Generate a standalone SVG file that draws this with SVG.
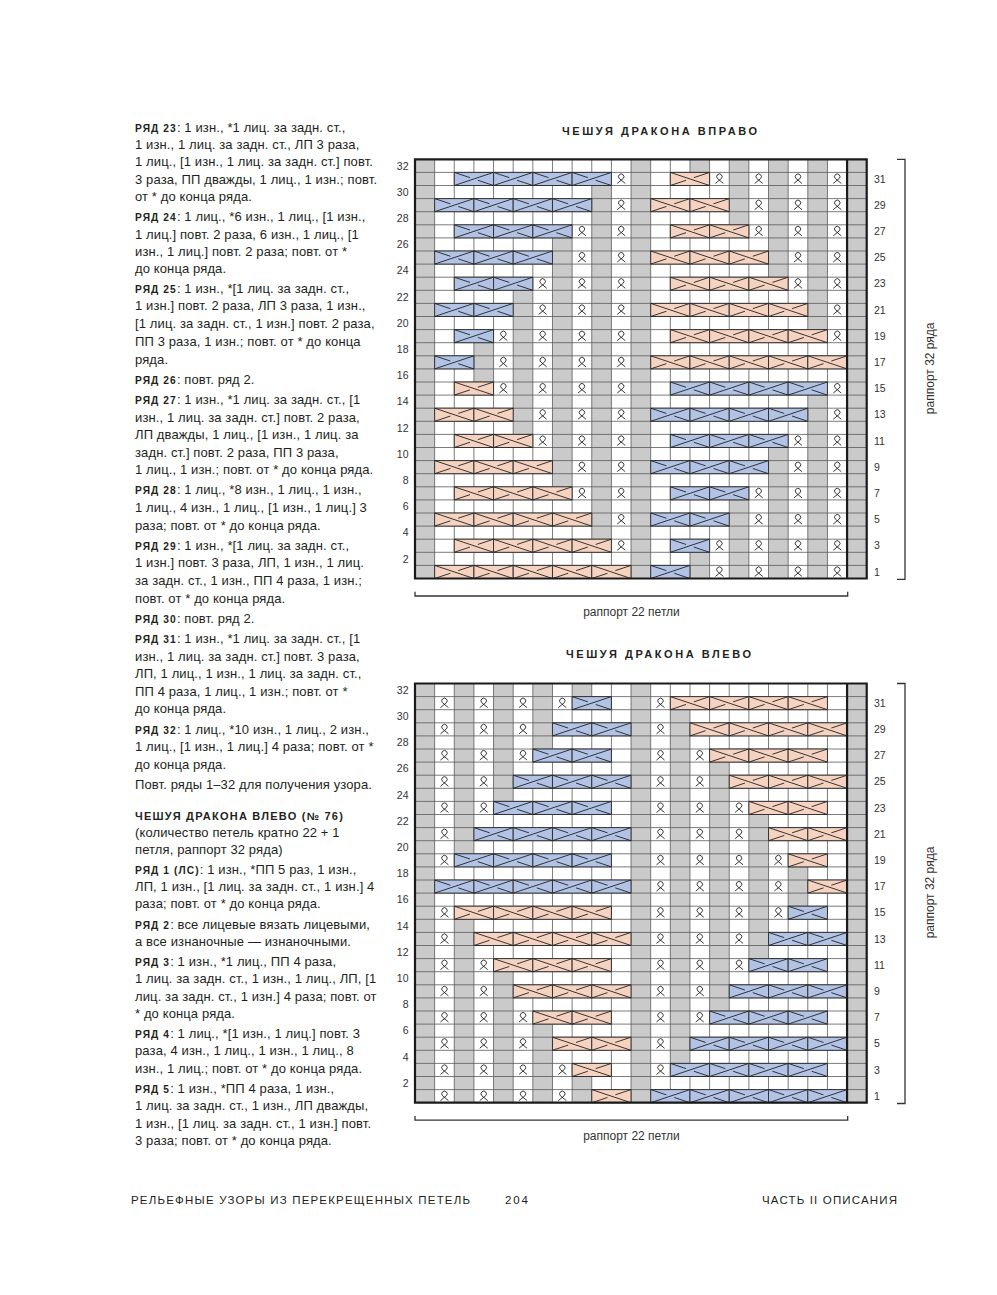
<svg xmlns="http://www.w3.org/2000/svg" xmlns:xlink="http://www.w3.org/1999/xlink" width="997" height="1295" viewBox="0 0 997 1295">
<style>
.body{font-family:'Liberation Sans',Arial,sans-serif;font-size:13px;letter-spacing:0.12px;fill:#231f20}
.rl{font-weight:bold;font-size:10.2px;letter-spacing:1.1px}
.hd{font-family:'Liberation Sans',Arial,sans-serif;font-weight:bold;font-size:11px;fill:#231f20}
.lbl{font-family:'Liberation Sans',Arial,sans-serif;font-size:10.5px;fill:#333}
.cap{font-family:'Liberation Sans',Arial,sans-serif;font-size:12px;fill:#333}
.ft{font-family:'Liberation Sans',Arial,sans-serif;font-size:11.5px;fill:#231f20}
.gr{fill:#cacaca}
.brk{fill:none;stroke:#333;stroke-width:1.3}
</style>
<defs>
<g id="O"><rect width="2" height="1" fill="#f6d2c0" stroke="#333" stroke-width="1" vector-effect="non-scaling-stroke"/><path d="M0 0L2 1M0 1L0.8 0.6M1.2 0.4L2 0" fill="none" stroke="#222" stroke-width="0.9" vector-effect="non-scaling-stroke"/></g>
<g id="B"><rect width="2" height="1" fill="#b2c3e6" stroke="#333" stroke-width="1" vector-effect="non-scaling-stroke"/><path d="M0 1L2 0M0 0L0.8 0.4M1.2 0.6L2 1" fill="none" stroke="#222" stroke-width="0.9" vector-effect="non-scaling-stroke"/></g>
<path id="t" d="M0.2963 0.8435L0.5967 0.4695A0.1375 0.2061 0 1 0 0.4033 0.4695L0.7037 0.8435" fill="none" stroke="#222" stroke-width="0.9" vector-effect="non-scaling-stroke"/>
<g id="grid">
<path d="M1 0V32M2 0V32M3 0V32M4 0V32M5 0V32M6 0V32M7 0V32M8 0V32M9 0V32M10 0V32M11 0V32M12 0V32M13 0V32M14 0V32M15 0V32M16 0V32M17 0V32M18 0V32M19 0V32M20 0V32M21 0V32M0 1H23M0 2H23M0 3H23M0 4H23M0 5H23M0 6H23M0 7H23M0 8H23M0 9H23M0 10H23M0 11H23M0 12H23M0 13H23M0 14H23M0 15H23M0 16H23M0 17H23M0 18H23M0 19H23M0 20H23M0 21H23M0 22H23M0 23H23M0 24H23M0 25H23M0 26H23M0 27H23M0 28H23M0 29H23M0 30H23M0 31H23" fill="none" stroke="#5a5a5a" stroke-width="0.8" vector-effect="non-scaling-stroke"/>
</g>
<g id="border">
<rect width="23" height="32" fill="none" stroke="#1a1a1a" stroke-width="2.2" vector-effect="non-scaling-stroke"/>
<path d="M22 0V32" stroke="#1a1a1a" stroke-width="2.2" vector-effect="non-scaling-stroke"/>
</g>
<g id="frame">
<g class="lbl" text-anchor="end">
<text x="408.5" y="10.25">32</text><text x="408.5" y="36.45">30</text><text x="408.5" y="62.65">28</text><text x="408.5" y="88.85">26</text>
<text x="408.5" y="115.05">24</text><text x="408.5" y="141.25">22</text><text x="408.5" y="167.45">20</text><text x="408.5" y="193.65">18</text>
<text x="408.5" y="219.85">16</text><text x="408.5" y="246.05">14</text><text x="408.5" y="272.25">12</text><text x="408.5" y="298.45">10</text>
<text x="408.5" y="324.65">8</text><text x="408.5" y="350.85">6</text><text x="408.5" y="377.05">4</text><text x="408.5" y="403.25">2</text>
</g>
<g class="lbl">
<text x="874" y="23.35">31</text><text x="874" y="49.55">29</text><text x="874" y="75.75">27</text><text x="874" y="101.95">25</text>
<text x="874" y="128.15">23</text><text x="874" y="154.35">21</text><text x="874" y="180.55">19</text><text x="874" y="206.75">17</text>
<text x="874" y="232.95">15</text><text x="874" y="259.15">13</text><text x="874" y="285.35">11</text><text x="874" y="311.55">9</text>
<text x="874" y="337.75">7</text><text x="874" y="363.95">5</text><text x="874" y="390.15">3</text><text x="874" y="416.35">1</text>
</g>
<path class="brk" d="M415 432.5V436.7H847.7V432.5"/>
<text class="cap" x="631.5" y="456.7" text-anchor="middle">раппорт 22 петли</text>
<path class="brk" d="M897 0H905V420H897"/>
<text class="cap" transform="translate(934,209) rotate(-90)" text-anchor="middle">раппорт 32 ряда</text>
</g>
</defs>

<g id="text-column" class="body">
<text x="135" y="132"><tspan class="rl">РЯД 23</tspan>: 1 изн., *1 лиц. за задн. ст.,</text>
<text x="135" y="149">1 изн., 1 лиц. за задн. ст., ЛП 3 раза,</text>
<text x="135" y="166">1 лиц., [1 изн., 1 лиц. за задн. ст.] повт.</text>
<text x="135" y="184">3 раза, ПП дважды, 1 лиц., 1 изн.; повт.</text>
<text x="135" y="201">от * до конца ряда.</text>
<text x="135" y="221"><tspan class="rl">РЯД 24</tspan>: 1 лиц., *6 изн., 1 лиц., [1 изн.,</text>
<text x="135" y="239">1 лиц.] повт. 2 раза, 6 изн., 1 лиц., [1</text>
<text x="135" y="256">изн., 1 лиц.] повт. 2 раза; повт. от *</text>
<text x="135" y="273">до конца ряда.</text>
<text x="135" y="293"><tspan class="rl">РЯД 25</tspan>: 1 изн., *[1 лиц. за задн. ст.,</text>
<text x="135" y="310">1 изн.] повт. 2 раза, ЛП 3 раза, 1 изн.,</text>
<text x="135" y="328">[1 лиц. за задн. ст., 1 изн.] повт. 2 раза,</text>
<text x="135" y="346">ПП 3 раза, 1 изн.; повт. от * до конца</text>
<text x="135" y="364">ряда.</text>
<text x="135" y="384"><tspan class="rl">РЯД 26</tspan>: повт. ряд 2.</text>
<text x="135" y="404"><tspan class="rl">РЯД 27</tspan>: 1 изн., *1 лиц. за задн. ст., [1</text>
<text x="135" y="422">изн., 1 лиц. за задн. ст.] повт. 2 раза,</text>
<text x="135" y="439">ЛП дважды, 1 лиц., [1 изн., 1 лиц. за</text>
<text x="135" y="457">задн. ст.] повт. 2 раза, ПП 3 раза,</text>
<text x="135" y="474">1 лиц., 1 изн.; повт. от * до конца ряда.</text>
<text x="135" y="494"><tspan class="rl">РЯД 28</tspan>: 1 лиц., *8 изн., 1 лиц., 1 изн.,</text>
<text x="135" y="512">1 лиц., 4 изн., 1 лиц., [1 изн., 1 лиц.] 3</text>
<text x="135" y="530">раза; повт. от * до конца ряда.</text>
<text x="135" y="550"><tspan class="rl">РЯД 29</tspan>: 1 изн., *[1 лиц. за задн. ст.,</text>
<text x="135" y="567">1 изн.] повт. 3 раза, ЛП, 1 изн., 1 лиц.</text>
<text x="135" y="585">за задн. ст., 1 изн., ПП 4 раза, 1 изн.;</text>
<text x="135" y="603">повт. от * до конца ряда.</text>
<text x="135" y="623"><tspan class="rl">РЯД 30</tspan>: повт. ряд 2.</text>
<text x="135" y="643"><tspan class="rl">РЯД 31</tspan>: 1 изн., *1 лиц. за задн. ст., [1</text>
<text x="135" y="661">изн., 1 лиц. за задн. ст.] повт. 3 раза,</text>
<text x="135" y="678">ЛП, 1 лиц., 1 изн., 1 лиц. за задн. ст.,</text>
<text x="135" y="696">ПП 4 раза, 1 лиц., 1 изн.; повт. от *</text>
<text x="135" y="713">до конца ряда.</text>
<text x="135" y="734"><tspan class="rl">РЯД 32</tspan>: 1 лиц., *10 изн., 1 лиц., 2 изн.,</text>
<text x="135" y="751">1 лиц., [1 изн., 1 лиц.] 4 раза; повт. от *</text>
<text x="135" y="769">до конца ряда.</text>
<text x="135" y="789">Повт. ряды 1–32 для получения узора.</text>
<text class="hd" x="135" y="820" textLength="208" lengthAdjust="spacing">ЧЕШУЯ ДРАКОНА ВЛЕВО (№ 76)</text>
<text x="135" y="837">(количество петель кратно 22 + 1</text>
<text x="135" y="854">петля, раппорт 32 ряда)</text>
<text x="135" y="874"><tspan class="rl">РЯД 1 (ЛС)</tspan>: 1 изн., *ПП 5 раз, 1 изн.,</text>
<text x="135" y="891">ЛП, 1 изн., [1 лиц. за задн. ст., 1 изн.] 4</text>
<text x="135" y="908">раза; повт. от * до конца ряда.</text>
<text x="135" y="929"><tspan class="rl">РЯД 2</tspan>: все лицевые вязать лицевыми,</text>
<text x="135" y="946">а все изнаночные — изнаночными.</text>
<text x="135" y="966"><tspan class="rl">РЯД 3</tspan>: 1 изн., *1 лиц., ПП 4 раза,</text>
<text x="135" y="983">1 лиц. за задн. ст., 1 изн., 1 лиц., ЛП, [1</text>
<text x="135" y="1001">лиц. за задн. ст., 1 изн.] 4 раза; повт. от</text>
<text x="135" y="1018">* до конца ряда.</text>
<text x="135" y="1038"><tspan class="rl">РЯД 4</tspan>: 1 лиц., *[1 изн., 1 лиц.] повт. 3</text>
<text x="135" y="1055">раза, 4 изн., 1 лиц., 1 изн., 1 лиц., 8</text>
<text x="135" y="1073">изн., 1 лиц.; повт. от * до конца ряда.</text>
<text x="135" y="1093"><tspan class="rl">РЯД 5</tspan>: 1 изн., *ПП 4 раза, 1 изн.,</text>
<text x="135" y="1110">1 лиц. за задн. ст., 1 изн., ЛП дважды,</text>
<text x="135" y="1128">1 изн., [1 лиц. за задн. ст., 1 изн.] повт.</text>
<text x="135" y="1145">3 раза; повт. от * до конца ряда.</text>
</g>

<g id="title1"><text class="hd" x="562" y="135" font-size="11.5" textLength="195" lengthAdjust="spacing">ЧЕШУЯ ДРАКОНА ВПРАВО</text></g>
<g id="title2"><text class="hd" x="566" y="658" font-size="11.5" textLength="185" lengthAdjust="spacing">ЧЕШУЯ ДРАКОНА ВЛЕВО</text></g>

<g id="chart1" transform="translate(415,159.3) scale(19.64,13.1)">
<rect width="23" height="32" fill="#fff"/>
<path class="gr" d="M0 0h1v32h-1zM11 0h1v32h-1zM22 0h1v32h-1zM9 2h1v27h-1zM7 6h1v19h-1zM5 10h1v11h-1zM3 14h1v3h-1zM14 0h1v1h-1zM14 30h1v2h-1zM16 0h1v5h-1zM16 26h1v6h-1zM18 0h1v9h-1zM18 22h1v10h-1zM20 0h1v13h-1zM20 18h1v14h-1z"/>
<use href="#grid"/>
<g id="cables1">
<use href="#B" x="2" y="1"/><use href="#B" x="4" y="1"/><use href="#B" x="6" y="1"/><use href="#B" x="8" y="1"/><use href="#O" x="13" y="1"/>
<use href="#B" x="1" y="3"/><use href="#B" x="3" y="3"/><use href="#B" x="5" y="3"/><use href="#B" x="7" y="3"/><use href="#O" x="12" y="3"/><use href="#O" x="14" y="3"/>
<use href="#B" x="2" y="5"/><use href="#B" x="4" y="5"/><use href="#B" x="6" y="5"/><use href="#O" x="13" y="5"/><use href="#O" x="15" y="5"/>
<use href="#B" x="1" y="7"/><use href="#B" x="3" y="7"/><use href="#B" x="5" y="7"/><use href="#O" x="12" y="7"/><use href="#O" x="14" y="7"/><use href="#O" x="16" y="7"/>
<use href="#B" x="2" y="9"/><use href="#B" x="4" y="9"/><use href="#O" x="13" y="9"/><use href="#O" x="15" y="9"/><use href="#O" x="17" y="9"/>
<use href="#B" x="1" y="11"/><use href="#B" x="3" y="11"/><use href="#O" x="12" y="11"/><use href="#O" x="14" y="11"/><use href="#O" x="16" y="11"/><use href="#O" x="18" y="11"/>
<use href="#B" x="2" y="13"/><use href="#O" x="13" y="13"/><use href="#O" x="15" y="13"/><use href="#O" x="17" y="13"/><use href="#O" x="19" y="13"/>
<use href="#B" x="1" y="15"/><use href="#O" x="12" y="15"/><use href="#O" x="14" y="15"/><use href="#O" x="16" y="15"/><use href="#O" x="18" y="15"/><use href="#O" x="20" y="15"/>
<use href="#O" x="2" y="17"/><use href="#B" x="13" y="17"/><use href="#B" x="15" y="17"/><use href="#B" x="17" y="17"/><use href="#B" x="19" y="17"/>
<use href="#O" x="1" y="19"/><use href="#O" x="3" y="19"/><use href="#B" x="12" y="19"/><use href="#B" x="14" y="19"/><use href="#B" x="16" y="19"/><use href="#B" x="18" y="19"/>
<use href="#O" x="2" y="21"/><use href="#O" x="4" y="21"/><use href="#B" x="13" y="21"/><use href="#B" x="15" y="21"/><use href="#B" x="17" y="21"/>
<use href="#O" x="1" y="23"/><use href="#O" x="3" y="23"/><use href="#O" x="5" y="23"/><use href="#B" x="12" y="23"/><use href="#B" x="14" y="23"/><use href="#B" x="16" y="23"/>
<use href="#O" x="2" y="25"/><use href="#O" x="4" y="25"/><use href="#O" x="6" y="25"/><use href="#B" x="13" y="25"/><use href="#B" x="15" y="25"/>
<use href="#O" x="1" y="27"/><use href="#O" x="3" y="27"/><use href="#O" x="5" y="27"/><use href="#O" x="7" y="27"/><use href="#B" x="12" y="27"/><use href="#B" x="14" y="27"/>
<use href="#O" x="2" y="29"/><use href="#O" x="4" y="29"/><use href="#O" x="6" y="29"/><use href="#O" x="8" y="29"/><use href="#B" x="13" y="29"/>
<use href="#O" x="1" y="31"/><use href="#O" x="3" y="31"/><use href="#O" x="5" y="31"/><use href="#O" x="7" y="31"/><use href="#O" x="9" y="31"/><use href="#B" x="12" y="31"/>
</g>
<g id="twisted1">
<use href="#t" x="10" y="1"/><use href="#t" x="15" y="1"/><use href="#t" x="17" y="1"/><use href="#t" x="19" y="1"/><use href="#t" x="21" y="1"/>
<use href="#t" x="10" y="3"/><use href="#t" x="17" y="3"/><use href="#t" x="19" y="3"/><use href="#t" x="21" y="3"/>
<use href="#t" x="8" y="5"/><use href="#t" x="10" y="5"/><use href="#t" x="17" y="5"/><use href="#t" x="19" y="5"/><use href="#t" x="21" y="5"/>
<use href="#t" x="8" y="7"/><use href="#t" x="10" y="7"/><use href="#t" x="19" y="7"/><use href="#t" x="21" y="7"/>
<use href="#t" x="6" y="9"/><use href="#t" x="8" y="9"/><use href="#t" x="10" y="9"/><use href="#t" x="19" y="9"/><use href="#t" x="21" y="9"/>
<use href="#t" x="6" y="11"/><use href="#t" x="8" y="11"/><use href="#t" x="10" y="11"/><use href="#t" x="21" y="11"/>
<use href="#t" x="4" y="13"/><use href="#t" x="6" y="13"/><use href="#t" x="8" y="13"/><use href="#t" x="10" y="13"/><use href="#t" x="21" y="13"/>
<use href="#t" x="4" y="15"/><use href="#t" x="6" y="15"/><use href="#t" x="8" y="15"/><use href="#t" x="10" y="15"/>
<use href="#t" x="4" y="17"/><use href="#t" x="6" y="17"/><use href="#t" x="8" y="17"/><use href="#t" x="10" y="17"/><use href="#t" x="21" y="17"/>
<use href="#t" x="6" y="19"/><use href="#t" x="8" y="19"/><use href="#t" x="10" y="19"/><use href="#t" x="21" y="19"/>
<use href="#t" x="6" y="21"/><use href="#t" x="8" y="21"/><use href="#t" x="10" y="21"/><use href="#t" x="19" y="21"/><use href="#t" x="21" y="21"/>
<use href="#t" x="8" y="23"/><use href="#t" x="10" y="23"/><use href="#t" x="19" y="23"/><use href="#t" x="21" y="23"/>
<use href="#t" x="8" y="25"/><use href="#t" x="10" y="25"/><use href="#t" x="17" y="25"/><use href="#t" x="19" y="25"/><use href="#t" x="21" y="25"/>
<use href="#t" x="10" y="27"/><use href="#t" x="17" y="27"/><use href="#t" x="19" y="27"/><use href="#t" x="21" y="27"/>
<use href="#t" x="10" y="29"/><use href="#t" x="15" y="29"/><use href="#t" x="17" y="29"/><use href="#t" x="19" y="29"/><use href="#t" x="21" y="29"/>
<use href="#t" x="15" y="31"/><use href="#t" x="17" y="31"/><use href="#t" x="19" y="31"/><use href="#t" x="21" y="31"/>
</g>
<use href="#border"/>
</g>

<g id="chart2" transform="translate(415,683.5) scale(19.64,13.1)">
<rect width="23" height="32" fill="#fff"/>
<path class="gr" d="M0 0h1v32h-1zM11 0h1v32h-1zM22 0h1v32h-1zM13 2h1v27h-1zM15 6h1v19h-1zM17 10h1v11h-1zM19 14h1v3h-1zM8 0h1v1h-1zM8 30h1v2h-1zM6 0h1v5h-1zM6 26h1v6h-1zM4 0h1v9h-1zM4 22h1v10h-1zM2 0h1v13h-1zM2 18h1v14h-1z"/>
<use href="#grid"/>
<g id="cables2">
<use href="#O" x="13" y="1"/><use href="#O" x="15" y="1"/><use href="#O" x="17" y="1"/><use href="#O" x="19" y="1"/><use href="#B" x="8" y="1"/>
<use href="#O" x="14" y="3"/><use href="#O" x="16" y="3"/><use href="#O" x="18" y="3"/><use href="#O" x="20" y="3"/><use href="#B" x="7" y="3"/><use href="#B" x="9" y="3"/>
<use href="#O" x="15" y="5"/><use href="#O" x="17" y="5"/><use href="#O" x="19" y="5"/><use href="#B" x="6" y="5"/><use href="#B" x="8" y="5"/>
<use href="#O" x="16" y="7"/><use href="#O" x="18" y="7"/><use href="#O" x="20" y="7"/><use href="#B" x="5" y="7"/><use href="#B" x="7" y="7"/><use href="#B" x="9" y="7"/>
<use href="#O" x="17" y="9"/><use href="#O" x="19" y="9"/><use href="#B" x="4" y="9"/><use href="#B" x="6" y="9"/><use href="#B" x="8" y="9"/>
<use href="#O" x="18" y="11"/><use href="#O" x="20" y="11"/><use href="#B" x="3" y="11"/><use href="#B" x="5" y="11"/><use href="#B" x="7" y="11"/><use href="#B" x="9" y="11"/>
<use href="#O" x="19" y="13"/><use href="#B" x="2" y="13"/><use href="#B" x="4" y="13"/><use href="#B" x="6" y="13"/><use href="#B" x="8" y="13"/>
<use href="#O" x="20" y="15"/><use href="#B" x="1" y="15"/><use href="#B" x="3" y="15"/><use href="#B" x="5" y="15"/><use href="#B" x="7" y="15"/><use href="#B" x="9" y="15"/>
<use href="#B" x="19" y="17"/><use href="#O" x="2" y="17"/><use href="#O" x="4" y="17"/><use href="#O" x="6" y="17"/><use href="#O" x="8" y="17"/>
<use href="#B" x="18" y="19"/><use href="#B" x="20" y="19"/><use href="#O" x="3" y="19"/><use href="#O" x="5" y="19"/><use href="#O" x="7" y="19"/><use href="#O" x="9" y="19"/>
<use href="#B" x="17" y="21"/><use href="#B" x="19" y="21"/><use href="#O" x="4" y="21"/><use href="#O" x="6" y="21"/><use href="#O" x="8" y="21"/>
<use href="#B" x="16" y="23"/><use href="#B" x="18" y="23"/><use href="#B" x="20" y="23"/><use href="#O" x="5" y="23"/><use href="#O" x="7" y="23"/><use href="#O" x="9" y="23"/>
<use href="#B" x="15" y="25"/><use href="#B" x="17" y="25"/><use href="#B" x="19" y="25"/><use href="#O" x="6" y="25"/><use href="#O" x="8" y="25"/>
<use href="#B" x="14" y="27"/><use href="#B" x="16" y="27"/><use href="#B" x="18" y="27"/><use href="#B" x="20" y="27"/><use href="#O" x="7" y="27"/><use href="#O" x="9" y="27"/>
<use href="#B" x="13" y="29"/><use href="#B" x="15" y="29"/><use href="#B" x="17" y="29"/><use href="#B" x="19" y="29"/><use href="#O" x="8" y="29"/>
<use href="#B" x="12" y="31"/><use href="#B" x="14" y="31"/><use href="#B" x="16" y="31"/><use href="#B" x="18" y="31"/><use href="#B" x="20" y="31"/><use href="#O" x="9" y="31"/>
</g>
<g id="twisted2">
<use href="#t" x="12" y="1"/><use href="#t" x="1" y="1"/><use href="#t" x="3" y="1"/><use href="#t" x="5" y="1"/><use href="#t" x="7" y="1"/>
<use href="#t" x="12" y="3"/><use href="#t" x="1" y="3"/><use href="#t" x="3" y="3"/><use href="#t" x="5" y="3"/>
<use href="#t" x="12" y="5"/><use href="#t" x="14" y="5"/><use href="#t" x="1" y="5"/><use href="#t" x="3" y="5"/><use href="#t" x="5" y="5"/>
<use href="#t" x="12" y="7"/><use href="#t" x="14" y="7"/><use href="#t" x="1" y="7"/><use href="#t" x="3" y="7"/>
<use href="#t" x="12" y="9"/><use href="#t" x="14" y="9"/><use href="#t" x="16" y="9"/><use href="#t" x="1" y="9"/><use href="#t" x="3" y="9"/>
<use href="#t" x="12" y="11"/><use href="#t" x="14" y="11"/><use href="#t" x="16" y="11"/><use href="#t" x="1" y="11"/>
<use href="#t" x="12" y="13"/><use href="#t" x="14" y="13"/><use href="#t" x="16" y="13"/><use href="#t" x="18" y="13"/><use href="#t" x="1" y="13"/>
<use href="#t" x="12" y="15"/><use href="#t" x="14" y="15"/><use href="#t" x="16" y="15"/><use href="#t" x="18" y="15"/>
<use href="#t" x="12" y="17"/><use href="#t" x="14" y="17"/><use href="#t" x="16" y="17"/><use href="#t" x="18" y="17"/><use href="#t" x="1" y="17"/>
<use href="#t" x="12" y="19"/><use href="#t" x="14" y="19"/><use href="#t" x="16" y="19"/><use href="#t" x="1" y="19"/>
<use href="#t" x="12" y="21"/><use href="#t" x="14" y="21"/><use href="#t" x="16" y="21"/><use href="#t" x="1" y="21"/><use href="#t" x="3" y="21"/>
<use href="#t" x="12" y="23"/><use href="#t" x="14" y="23"/><use href="#t" x="1" y="23"/><use href="#t" x="3" y="23"/>
<use href="#t" x="12" y="25"/><use href="#t" x="14" y="25"/><use href="#t" x="1" y="25"/><use href="#t" x="3" y="25"/><use href="#t" x="5" y="25"/>
<use href="#t" x="12" y="27"/><use href="#t" x="1" y="27"/><use href="#t" x="3" y="27"/><use href="#t" x="5" y="27"/>
<use href="#t" x="12" y="29"/><use href="#t" x="1" y="29"/><use href="#t" x="3" y="29"/><use href="#t" x="5" y="29"/><use href="#t" x="7" y="29"/>
<use href="#t" x="1" y="31"/><use href="#t" x="3" y="31"/><use href="#t" x="5" y="31"/><use href="#t" x="7" y="31"/>
</g>
<use href="#border"/>
</g>

<g id="frame1"><use href="#frame" transform="translate(0,159.3)"/></g>
<g id="frame2"><use href="#frame" transform="translate(0,683.5)"/></g>

<g id="footer">
<text class="ft" x="131" y="1204" textLength="339" lengthAdjust="spacing">РЕЛЬЕФНЫЕ УЗОРЫ ИЗ ПЕРЕКРЕЩЕННЫХ ПЕТЕЛЬ</text>
<text class="ft" x="505" y="1204" textLength="23" lengthAdjust="spacing">204</text>
<text class="ft" x="762" y="1204" textLength="135" lengthAdjust="spacing">ЧАСТЬ II ОПИСАНИЯ</text>
</g>
</svg>
